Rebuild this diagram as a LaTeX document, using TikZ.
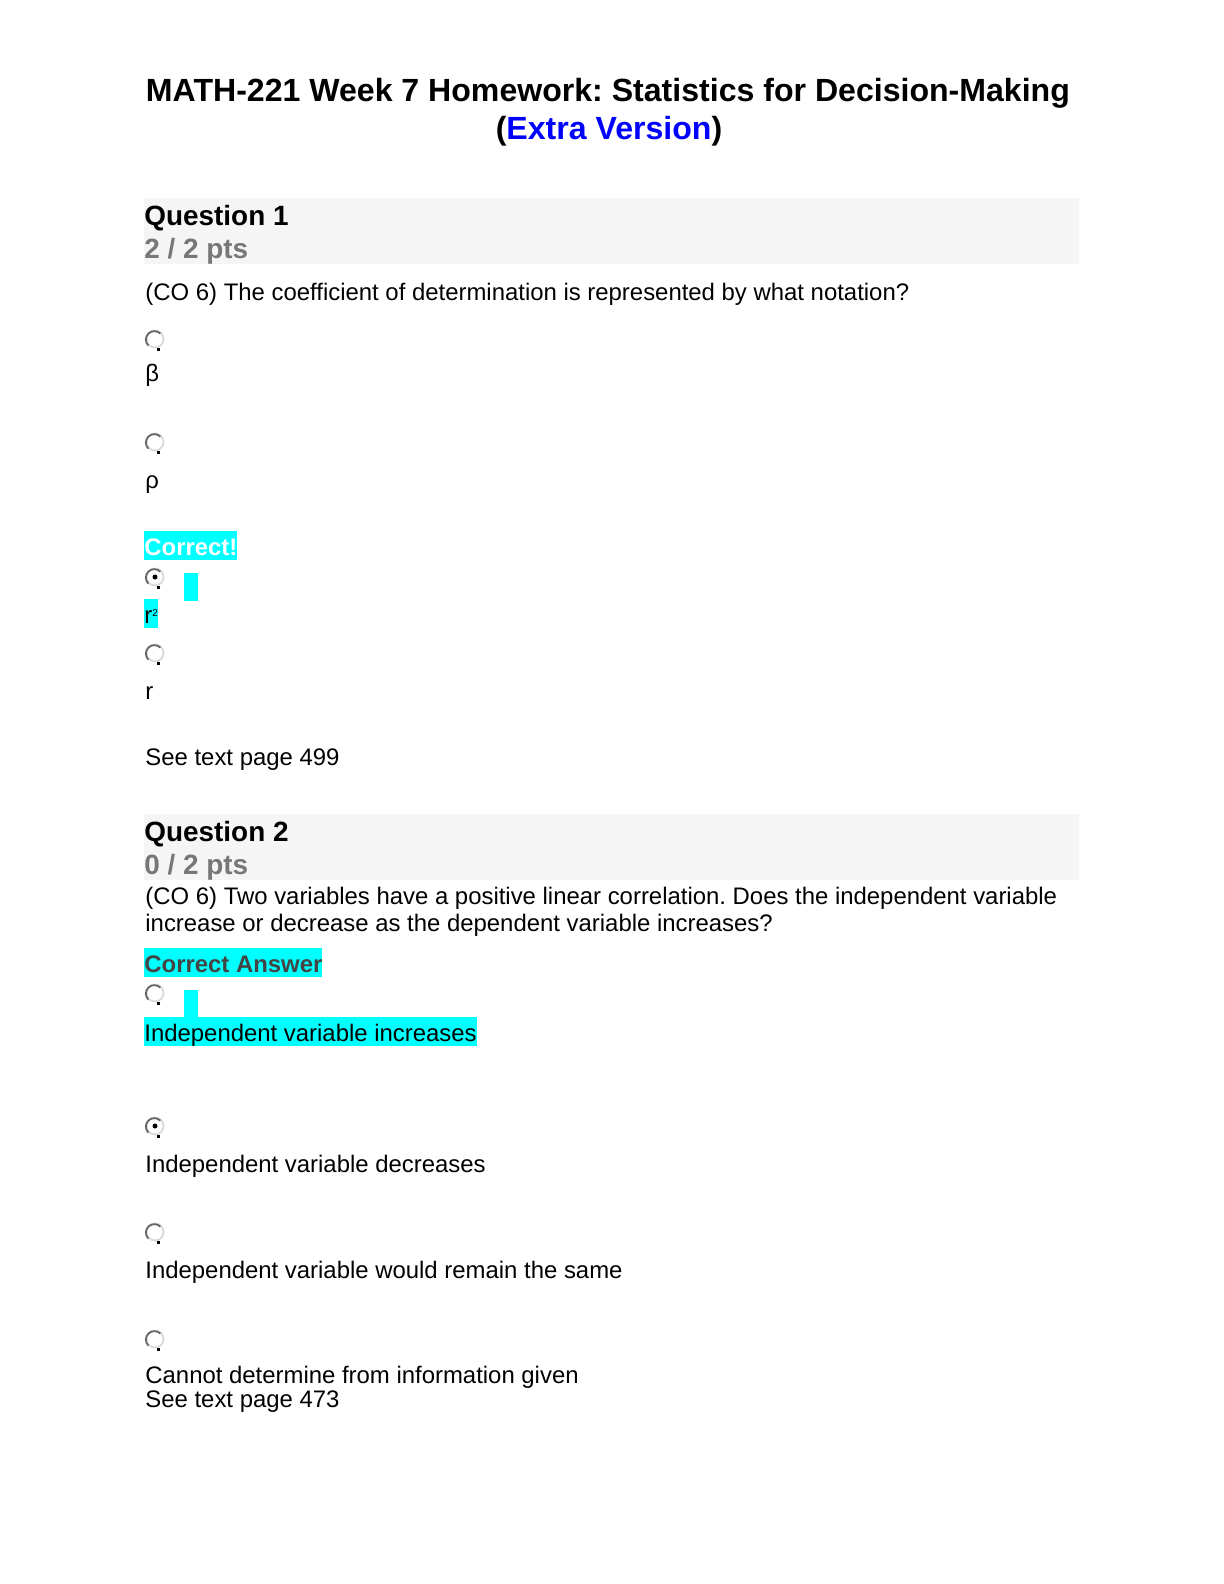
\documentclass[tikz,border=0pt]{standalone}
\usepackage{fontspec}
\setmainfont{Liberation Sans}
\frenchspacing
\definecolor{qbg}{HTML}{F5F5F5}
\definecolor{ptsgray}{HTML}{777777}
\definecolor{ansgray}{HTML}{444444}
\definecolor{hlcyan}{RGB}{0,255,255}
% radio button: name, y
\newcommand{\radio}[2]{%
  \node[radio] (#1) at (155,#2) {};
  \draw[gray!80!black,line width=0.9bp] (#1.south west) arc (135:315:8.5);
  \fill ([xshift=1bp]#1.south) rectangle ++(3,3);
}
\tikzset{
  body/.style={anchor=base west, inner sep=0, font=\fontsize{12}{14}\selectfont},
  head/.style={body, font=\fontsize{14}{16}\selectfont\bfseries},
  pts/.style={head, text=ptsgray},
  hl/.style={body, fill=hlcyan, text height=12bp, text depth=2.5bp},
  radio/.style={circle, draw=gray!30, line width=0.9bp, minimum size=8.5bp, inner sep=0}
}
\begin{document}
\begin{tikzpicture}[x=0.5bp,y=-0.5bp]
  \useasboundingbox (0,0) rectangle (1224,1584);
  % title
  \node[anchor=base, inner sep=0, font=\fontsize{16.1}{19}\selectfont\bfseries] (title) at (608,101)
    {MATH-221 Week 7 Homework: Statistics for Decision-Making};
  \node[anchor=base, inner sep=0, font=\fontsize{16.1}{19}\selectfont\bfseries] (subtitle) at (609,139)
    {(\textcolor{blue}{Extra Version})};

  % question 1
  \fill[qbg] (144,198) rectangle (1079,264);
  \node[head] (q1head) at (144,225) {Question 1};
  \node[pts] (q1pts) at (144,258) {2 / 2 pts};
  \node[body] (q1text) at (145,300) {(CO 6) The coefficient of determination is represented by what notation?};
  \radio{q1ra}{339}
  \node[body] (q1a) at (145,381) {β};
  \radio{q1rb}{442}
  \node[body] (q1b) at (145,488) {ρ};
  \node[hl, text=white, font=\fontsize{12}{14}\selectfont\bfseries] (q1ok) at (144,555) {Correct!};
  \fill[hlcyan] (184,573) rectangle (198,601);
  \radio{q1rc}{577}
  \fill (q1rc) circle (2.5);
  \node[hl] (q1c) at (144,623) {r\raisebox{3.5bp}{\fontsize{5}{5}\selectfont 2}};
  \radio{q1rd}{653}
  \node[body] (q1d) at (145,699) {r};
  \node[body] (q1ref) at (145,765) {See text page 499};

  % question 2
  \fill[qbg] (144,814) rectangle (1079,880);
  \node[head] (q2head) at (144,841) {Question 2};
  \node[pts] (q2pts) at (144,874) {0 / 2 pts};
  \node[body] (q2texta) at (145,904) {(CO 6) Two variables have a positive linear correlation. Does the independent variable};
  \node[body] (q2textb) at (145,931) {increase or decrease as the dependent variable increases?};
  \node[hl, text=ansgray, font=\fontsize{12}{14}\selectfont\bfseries] (q2ok) at (144,972) {Correct Answer};
  \fill[hlcyan] (184,990) rectangle (198,1017);
  \radio{q2ra}{993}
  \node[hl] (q2a) at (144,1041) {Independent variable increases};
  \radio{q2rb}{1126}
  \fill (q2rb) circle (2.5);
  \node[body] (q2b) at (145,1172) {Independent variable decreases};
  \radio{q2rc}{1232}
  \node[body] (q2c) at (145,1278) {Independent variable would remain the same};
  \radio{q2rd}{1339}
  \node[body] (q2d) at (145,1383) {Cannot determine from information given};
  \node[body] (q2ref) at (145,1407) {See text page 473};
\end{tikzpicture}
\end{document}
